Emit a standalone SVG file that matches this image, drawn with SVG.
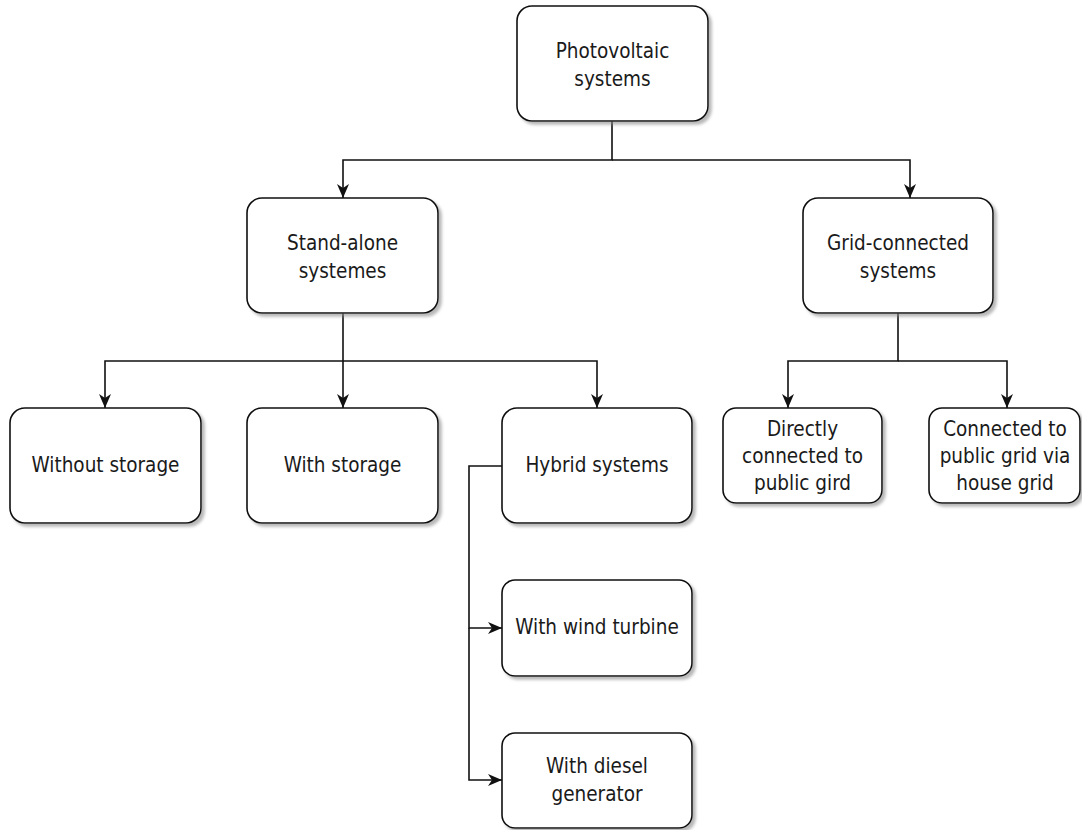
<svg xmlns="http://www.w3.org/2000/svg" width="1082" height="830" viewBox="0 0 1082 830">
<defs>
<filter id="sh" x="-10%" y="-10%" width="130%" height="130%">
<feDropShadow dx="3" dy="3" stdDeviation="1.5" flood-color="#888" flood-opacity="0.6"/>
</filter>
<marker id="arr" markerUnits="userSpaceOnUse" markerWidth="15" markerHeight="14" refX="14" refY="7" orient="auto">
<path d="M0,1 L14,7 L0,13 L4,7 Z" fill="#111"/>
</marker>
</defs>
<style>
.box{fill:#fff;stroke:#111;stroke-width:1.6;filter:url(#sh)}
.lbl{font-family:"DejaVu Sans Condensed","DejaVu Sans",sans-serif;font-size:20.5px;fill:#1a1a1a;text-anchor:middle}
.con{fill:none;stroke:#111;stroke-width:1.6;marker-end:url(#arr)}
</style>
<g id="connectors">
<path class="con" d="M612,121 V160 H343 V198"/>
<path class="con" d="M612,160 H910 V198"/>
<path class="con" d="M343,313 V361 H105 V408"/>
<path class="con" d="M343,361 V408"/>
<path class="con" d="M343,361 H597 V408"/>
<path class="con" d="M898,313 V361 H788 V408"/>
<path class="con" d="M898,361 H1007 V408"/>
<path class="con" d="M502,466 H469 V628 H502"/>
<path class="con" d="M469,628 V780 H502"/>
</g>
<g id="pv">
<rect class="box" x="517" y="6" width="191" height="115" rx="15"/>
<text class="lbl" x="612.5" y="58">Photovoltaic</text>
<text class="lbl" x="612.5" y="86">systems</text>
</g>
<g id="standalone">
<rect class="box" x="247" y="198" width="191" height="115" rx="15"/>
<text class="lbl" x="342.5" y="250">Stand-alone</text>
<text class="lbl" x="342.5" y="278">systemes</text>
</g>
<g id="grid">
<rect class="box" x="803" y="198" width="190" height="115" rx="15"/>
<text class="lbl" x="898" y="250">Grid-connected</text>
<text class="lbl" x="898" y="278">systems</text>
</g>
<g id="without">
<rect class="box" x="10" y="408" width="191" height="115" rx="15"/>
<text class="lbl" x="105.5" y="472">Without storage</text>
</g>
<g id="with">
<rect class="box" x="247" y="408" width="191" height="115" rx="15"/>
<text class="lbl" x="342.5" y="472">With storage</text>
</g>
<g id="hybrid">
<rect class="box" x="502" y="408" width="190" height="115" rx="15"/>
<text class="lbl" x="597" y="472">Hybrid systems</text>
</g>
<g id="direct">
<rect class="box" x="723" y="408" width="159" height="95" rx="13"/>
<text class="lbl" x="802.5" y="436">Directly</text>
<text class="lbl" x="802.5" y="463">connected to</text>
<text class="lbl" x="802.5" y="490">public gird</text>
</g>
<g id="house">
<rect class="box" x="929" y="408" width="151" height="95" rx="13"/>
<text class="lbl" x="1005" y="436">Connected to</text>
<text class="lbl" x="1005" y="463">public grid via</text>
<text class="lbl" x="1005" y="490">house grid</text>
</g>
<g id="wind">
<rect class="box" x="502" y="580" width="190" height="96" rx="13"/>
<text class="lbl" x="597" y="634">With wind turbine</text>
</g>
<g id="diesel">
<rect class="box" x="502" y="733" width="190" height="95" rx="13"/>
<text class="lbl" x="597" y="773">With diesel</text>
<text class="lbl" x="597" y="801">generator</text>
</g>
</svg>
